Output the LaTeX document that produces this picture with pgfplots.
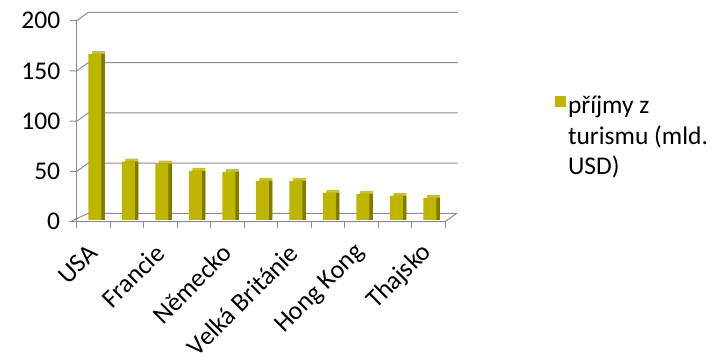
\documentclass[border=0pt]{standalone}
\usepackage{pgfplots}
\pgfplotsset{compat=1.18}
\usepackage{pgfplotstable}
\usepackage{fontspec}
\setmainfont{Carlito}
\definecolor{barfront}{RGB}{189,181,0}
\definecolor{barside}{RGB}{128,122,0}
\definecolor{bartop}{RGB}{204,196,30}
\definecolor{gridc}{RGB}{140,140,140}
\pgfplotstableread{
x v
0 165
1 58
2 56
3 49
4 48
5 39
6 39
7 27
8 26
9 24
10 22
}\datatable
\begin{document}
\begin{tikzpicture}
\useasboundingbox (0pt,0pt) rectangle (718pt,361pt);
\begin{axis}[
  at={(76.7pt,139.3pt)}, anchor=south west,
  scale only axis, width=368.3pt, height=201pt,
  xmin=-0.5, xmax=10.5, ymin=0, ymax=200,
  axis line style={draw=none},
  major tick length=0pt,
  clip=false,
  xtick={0,...,10},
  xticklabels={USA,,Francie,,Německo,,Velká Británie,,Hong Kong,,Thajsko},
  xticklabel style={xshift=2pt, yshift=-24.5pt, rotate=45, anchor=east, font=\fontsize{26}{30}\selectfont},
  ytick={0,50,100,150,200},
  yticklabel style={xshift=-13pt, font=\fontsize{25.5}{30}\selectfont},
  /pgf/number format/assume math mode=true,
  ybar, bar width=13pt,
  legend style={draw=none, fill=none, at={(1.29,0.645)}, anchor=north west,
    font=\fontsize{25.5}{30.5}\selectfont, nodes={align=left}},
  legend cell align=left,
  legend image code/.code={\fill[barfront] (-4pt,28pt) rectangle (7pt,39pt);},
]
\pgfplotsinvokeforeach{50,100,150,200}{
  \draw[gridc, line width=1pt] ([xshift=-6.5pt]axis cs:-0.5,#1) -- (axis cs:-0.5,#1) -- ++(11.7pt,8.4pt) -- ([xshift=12.7pt,yshift=8.4pt]axis cs:10.5,#1);
}
\draw[gridc, line width=1pt] ([xshift=-6.5pt]axis cs:-0.5,0) -- (axis cs:-0.5,0) -- (axis cs:10.5,0) -- ++(11.7pt,8.4pt) -- ([xshift=11.7pt,yshift=8.4pt]axis cs:-0.5,0) -- cycle;
\draw[gridc, line width=1pt] (axis cs:-0.5,0) -- (axis cs:-0.5,200);
\pgfplotsinvokeforeach{-0.5,0.5,1.5,2.5,3.5,4.5,5.5,6.5,7.5,8.5,9.5,10.5}{
  \draw[gridc, line width=1pt] (axis cs:#1,0) -- ++(0pt,-6.5pt);
}
\addplot[fill=bartop, draw=none, bar shift=5pt, yshift=4.7pt, forget plot] table[x=x,y=v]{\datatable};
\addplot[fill=barside, draw=none, bar shift=5pt, yshift=1.7pt, forget plot] table[x=x,y=v]{\datatable};
\addplot[fill=barfront, draw=none, bar shift=1.5pt, yshift=1.7pt] table[x=x,y=v]{\datatable};
\addlegendentry{příjmy z\\turismu (mld.\\USD)}
\end{axis}
\end{tikzpicture}
\end{document}
